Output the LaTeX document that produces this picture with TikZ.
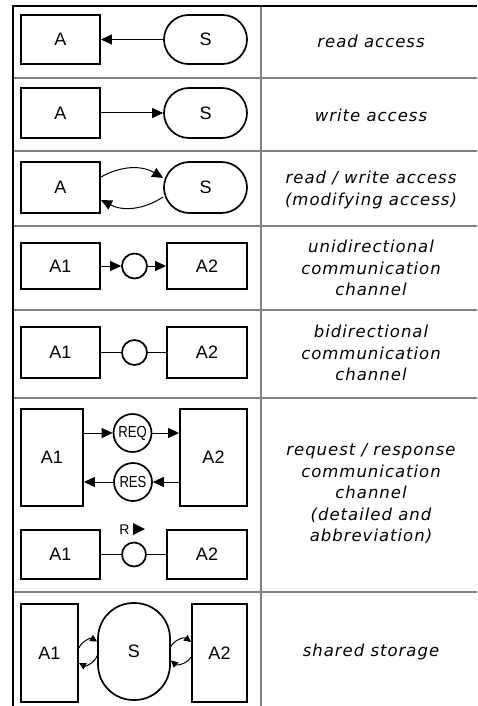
\documentclass[tikz,border=0pt]{standalone}
\usepackage{fontspec}
\usepackage{graphicx}
\usetikzlibrary{arrows.meta,shapes.misc}
\newfontfamily\labfont{Liberation Sans}
\newfontfamily\descfont{DejaVu Sans}[LetterSpace=6]
\definecolor{rulegray}{RGB}{128,128,128}
\begin{document}
\begin{tikzpicture}[x=1pt,y=-1pt,
  box/.style={draw, line width=1.9pt, inner sep=0pt, font=\labfont\fontsize{18}{18}\selectfont},
  store/.style={draw, rounded rectangle, line width=1.7pt, inner sep=0pt, font=\labfont\fontsize{18}{18}\selectfont},
  chan/.style={draw, circle, line width=1.7pt, inner sep=0pt},
  arr/.style={line width=1pt, -{Triangle[length=11pt,width=10pt]}},
  sarr/.style={line width=1pt, -{Triangle[length=7pt,width=7pt]}},
  conn/.style={line width=1pt},
  desc/.style={align=center, inner sep=0pt, font=\descfont\itshape\fontsize{16.5}{21.5}\selectfont},
  rowline/.style={draw=rulegray, line width=1.5pt},
  frame/.style={draw=black, line width=2.6pt}
]
\useasboundingbox (0,0) rectangle (477,706);
\fill[white] (0,0) rectangle (477,706);

% grid
\draw[rowline] (13,78) -- (477,78);
\draw[rowline] (13,151) -- (477,151);
\draw[rowline] (13,226) -- (477,226);
\draw[rowline] (13,310) -- (477,310);
\draw[rowline] (13,398) -- (477,398);
\draw[rowline] (13,592) -- (477,592);
\draw[draw=rulegray, line width=1.8pt] (261,6) -- (261,706);
\draw[frame] (11.7,6) -- (477,6);
\draw[frame] (13,6) -- (13,706);

% row 1: read access
\node[box, minimum width=79pt, minimum height=49pt] (a1) at (60.5,39.5) {A};
\node[store, minimum width=83pt, minimum height=49pt] (s1) at (205.5,39.5) {S};
\draw[arr] (s1) -- (a1);
\node[desc] (t1) at (371,41) {read access};

% row 2: write access
\node[box, minimum width=79pt, minimum height=50pt] (a2) at (60.5,113) {A};
\node[store, minimum width=83pt, minimum height=50pt] (s2) at (205.5,113) {S};
\draw[arr] (a2) -- (s2);
\node[desc] (t2) at (371,115) {write access};

% row 3: read / write access
\node[box, minimum width=79pt, minimum height=51pt] (a3) at (60.5,187.5) {A};
\node[store, minimum width=83pt, minimum height=51pt] (s3) at (205.5,187.5) {S};
\draw[arr] ([yshift=10.5pt]a3.east) to[bend left=30] ([yshift=9.5pt]s3.west);
\draw[arr] ([yshift=-9.5pt]s3.west) to[bend left=30] ([yshift=-12.5pt]a3.east);
\node[desc] (t3) at (371,190) {read / write access\\(modifying access)};

% row 4: unidirectional channel
\node[box, minimum width=79pt, minimum height=46pt] (b41) at (60.5,266) {A1};
\node[chan, minimum size=25pt] (c4) at (134.5,266) {};
\node[box, minimum width=80pt, minimum height=46pt] (b42) at (207,266) {A2};
\draw[arr] (b41) -- (c4);
\draw[arr] (c4) -- (b42);
\node[desc] (t4) at (371,268) {unidirectional\\communication\\channel};

% row 5: bidirectional channel
\node[box, minimum width=79pt, minimum height=51pt] (b51) at (60.5,352.5) {A1};
\node[chan, minimum size=25pt] (c5) at (134.5,352.5) {};
\node[box, minimum width=80pt, minimum height=51pt] (b52) at (207,352.5) {A2};
\draw[conn] (b51) -- (c5);
\draw[conn] (c5) -- (b52);
\node[desc] (t5) at (371,353) {bidirectional\\communication\\channel};

% row 6: request / response (detailed)
\node[box, minimum width=62pt, minimum height=97pt] (b61) at (52,457.5) {A1};
\node[box, minimum width=67pt, minimum height=97pt] (b62) at (213.5,457.5) {A2};
\node[chan, minimum size=38pt, font=\labfont\fontsize{16}{16}\selectfont] (req) at (132.5,433) {\scalebox{0.82}[1]{REQ}};
\node[chan, minimum size=38pt, font=\labfont\fontsize{16}{16}\selectfont] (res) at (133,482) {\scalebox{0.82}[1]{RES}};
\draw[arr] (b61.east |- req.west) -- (req.west);
\draw[arr] (req.east) -- (req.east -| b62.west);
\draw[arr] (b62.west |- res.east) -- (res.east);
\draw[arr] (res.west) -- (res.west -| b61.east);

% row 6: abbreviation
\node[box, minimum width=79pt, minimum height=49pt] (b63) at (60.5,554.5) {A1};
\node[chan, minimum size=24pt] (c6) at (134,554.5) {};
\node[box, minimum width=80pt, minimum height=49pt] (b64) at (207,554.5) {A2};
\draw[conn] (b63) -- (c6);
\draw[conn] (c6) -- (b64);
\node[inner sep=0pt, font=\labfont\fontsize{14}{14}\selectfont] (rl) at (124.5,529.5) {R};
\fill (133,523) -- (145,529) -- (133,535) -- cycle;
\node[desc] (t6) at (371,494) {request / response\\communication\\channel\\(detailed and\\abbreviation)};

% row 7: shared storage
\node[box, minimum width=57pt, minimum height=98pt] (b71) at (49.5,653) {A1};
\node[box, minimum width=55pt, minimum height=98pt] (b72) at (219.5,653) {A2};
\node[draw, line width=1.7pt, rounded corners=35.5pt, minimum width=72pt, minimum height=97pt, inner sep=0pt, font=\labfont\fontsize{18}{18}\selectfont] (s7) at (134,651.5) {S};
\draw[sarr] ([yshift=5pt]b71.east) to[bend left=50] ([yshift=10pt]s7.west);
\draw[sarr] ([yshift=-4pt]s7.west) to[bend left=50] ([yshift=-10pt]b71.east);
\draw[sarr] ([yshift=5pt]s7.east) to[bend left=50] ([yshift=11pt]b72.west);
\draw[sarr] ([yshift=-4pt]b72.west) to[bend left=50] ([yshift=-9pt]s7.east);
\node[desc] (t7) at (371,652) {shared storage};
\end{tikzpicture}
\end{document}
